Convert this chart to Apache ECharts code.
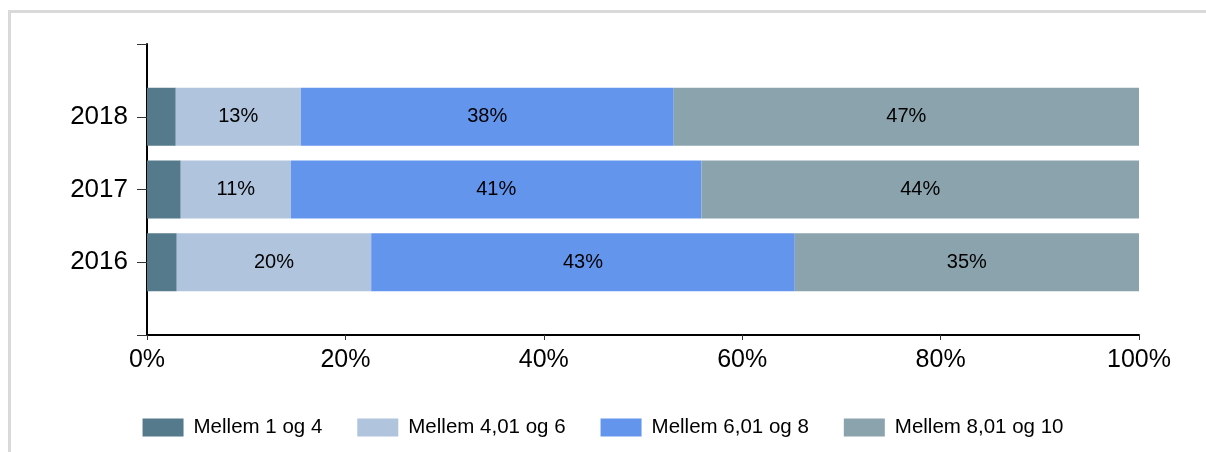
<!DOCTYPE html>
<html>
<head>
<meta charset="utf-8">
<script src="https://cdn.jsdelivr.net/npm/echarts@6/dist/echarts.min.js"></script>
<style>
  html, body { margin: 0; padding: 0; background: #fff; }
  #frame { position: absolute; left: 8px; top: 10px; width: 1300px; height: 500px; border-left: 3px solid #d9d9d9; border-top: 3px solid #d9d9d9; box-sizing: border-box; }
  #chart { position: absolute; left: 0; top: 0; width: 1206px; height: 452px; }
</style>
</head>
<body>
<div id="frame"></div>
<div id="chart"></div>
<script>
const categories = ['2016', '2017', '2018'];
const seriesNames = ['Mellem 1 og 4', 'Mellem 4,01 og 6', 'Mellem 6,01 og 8', 'Mellem 8,01 og 10'];
const s1 = [3.0, 3.4, 2.9];
const s2 = [19.6, 11.1, 12.6];
const s3 = [42.7, 41.4, 37.6];
const s4 = [34.7, 44.1, 46.9];
const colors = ['#557a8b', '#b0c4de', '#6495ed', '#8ba3ad'];
const showLabel = [false, true, true, true];

const yCats = [''].concat(categories).concat(['']);
const pad = arr => [null].concat(arr).concat([null]);
const allValues = [s1, s2, s3, s4];

const chart = echarts.init(document.getElementById('chart'));
chart.setOption({
  animation: false,
  textStyle: { fontFamily: 'Liberation Sans, Arial, sans-serif' },
  grid: { left: 147, right: 67, top: 44, bottom: 117, containLabel: false },
  legend: {
    top: 412,
    left: 'center',
    itemWidth: 41,
    itemHeight: 18,
    itemGap: 35,
    icon: 'rect',
    textStyle: { fontSize: 20.5, color: '#000', padding: [0, 0, 0, 5], fontFamily: 'Liberation Sans, Arial, sans-serif' },
    data: seriesNames
  },
  xAxis: {
    type: 'value',
    min: 0, max: 100, interval: 20,
    axisLine: { show: true, lineStyle: { color: '#000', width: 2 } },
    axisTick: { show: true, length: 5, lineStyle: { color: '#333' } },
    splitLine: { show: false },
    axisLabel: { formatter: '{value}%', fontSize: 25, color: '#000', margin: 13 }
  },
  yAxis: {
    type: 'category',
    data: yCats,
    boundaryGap: false,
    axisLine: { show: true, lineStyle: { color: '#000', width: 2 } },
    axisTick: { show: true, length: 10, interval: 0, lineStyle: { color: '#333' } },
    axisLabel: { fontSize: 26, color: '#000', margin: 19, interval: 0 }
  },
  series: allValues.map((vals, i) => ({
    name: seriesNames[i],
    type: 'bar',
    stack: 'total',
    barWidth: 58,
    data: pad(vals),
    itemStyle: { color: colors[i] },
    label: {
      show: showLabel[i],
      position: 'inside',
      color: '#000',
      fontSize: 20,
      formatter: p => Math.round(p.value) + '%'
    }
  }))
});
</script>
</body>
</html>
